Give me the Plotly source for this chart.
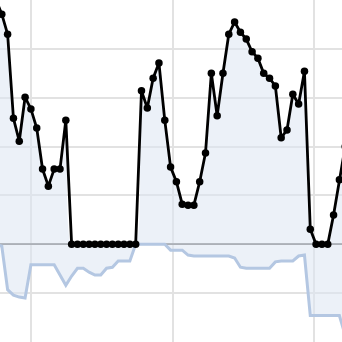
import plotly.graph_objects as go

idx = list(range(-1, 60))
black_vals = [50, 47.1, 43.0, 25.8, 21.1, 30.1, 27.7, 23.8, 15.4, 11.9, 15.4, 15.4, 25.4,
              0, 0, 0, 0, 0, 0, 0, 0, 0, 0, 0, 0,
              31.4, 27.9, 34.0, 37.1, 25.4, 15.8, 12.8, 8.2, 8.0, 8.0, 12.8, 18.7, 35.0, 26.3,
              35.0, 43.0, 45.5, 43.4, 42.0, 39.4, 38.1, 35.0, 34.0, 32.4, 21.8, 23.4, 30.7, 28.7,
              35.4, 3.1, 0, 0, 0, 6.0, 13.2, 20.0]
blue_vals = [0, -0.4, -9.3, -10.4, -10.8, -11.0, -4.2, -4.2, -4.2, -4.2, -4.2, -6.3, -8.4,
             -6.5, -4.9, -4.9, -5.7, -6.3, -6.3, -4.9, -4.7, -3.4, -3.4, -3.4, 0,
             0, 0, 0, 0, 0, -1.2, -1.2, -1.2, -2.2, -2.4, -2.4, -2.4, -2.4, -2.4, -2.4,
             -2.4, -2.8, -4.7, -4.9, -4.9, -4.9, -4.9, -4.9, -3.6, -3.4, -3.4, -3.4, -2.4,
             -2.2, -14.6, -14.6, -14.6, -14.6, -14.6, -14.6, -18.6]

fig = go.Figure()
fig.add_trace(go.Scatter(x=idx, y=black_vals, mode="lines", fill="tozeroy",
                         line=dict(width=0, shape="spline", smoothing=1),
                         fillcolor="rgba(220,229,243,0.55)", hoverinfo="skip"))
fig.add_trace(go.Scatter(x=idx, y=blue_vals, mode="lines", fill="tozeroy",
                         line=dict(color="#b4c7e2", width=3),
                         fillcolor="rgba(220,229,243,0.55)"))
fig.add_trace(go.Scatter(x=idx, y=black_vals, mode="lines+markers",
                         line=dict(color="#000000", width=2.8),
                         marker=dict(color="#000000", size=7.5)))

fig.update_layout(
    width=342, height=342, margin=dict(l=0, r=0, t=0, b=0),
    paper_bgcolor="white", plot_bgcolor="white", showlegend=False,
    xaxis=dict(range=[-0.309, 58.45], tick0=5.1, dtick=24.23, showticklabels=False,
               showgrid=True, gridcolor="#e2e2e2", gridwidth=1.5, zeroline=False),
    yaxis=dict(range=[-20, 50], dtick=10, showticklabels=False, showgrid=True,
               gridcolor="#e2e2e2", gridwidth=1.5, zeroline=True,
               zerolinecolor="#7f7f7f", zerolinewidth=1.5),
)
fig.write_html("out.html")
